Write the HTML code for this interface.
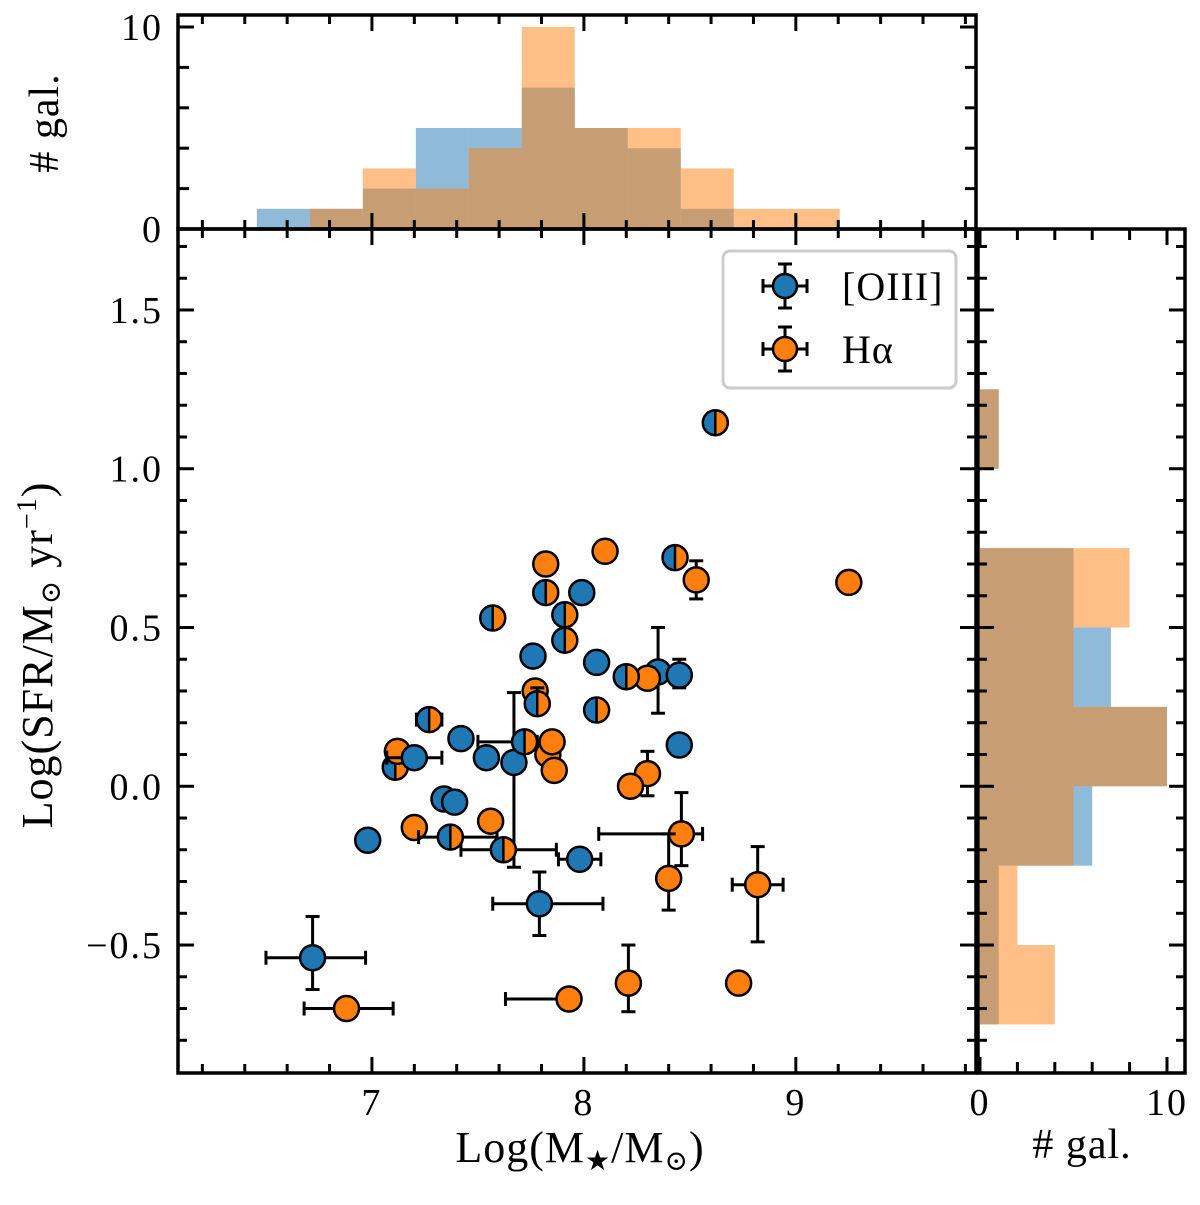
<!DOCTYPE html>
<html><head><meta charset="utf-8"><style>
html,body{margin:0;padding:0;background:#fff;}
svg{display:block;font-family:"Liberation Serif","DejaVu Serif",serif;}
</style></head><body>
<svg id="fig" width="1200" height="1205" viewBox="0 0 1200 1205" xmlns="http://www.w3.org/2000/svg">
</svg>
<script>
// ---- data ----
const histEdgesX = [6.457,6.707,6.957,7.207,7.457,7.707,7.957,8.207,8.457,8.707,8.957,9.207];
const histMassOIII = [1,1,2,5,5,7,5,4,1,0,0];
const histMassHa   = [0,1,3,2,4,10,5,5,3,1,1];
const histEdgesY = [-0.75,-0.5,-0.25,0.0,0.25,0.5,0.75,1.0,1.25];
const histSfrOIII = [1,1,6,10,7,5,0,1];
const histSfrHa   = [4,2,5,10,5,8,0,1];
// points: b=[OIII], o=Halpha, h=both
const ptType = ['h','o','o','h','o','b','h','o','h','h','h','b','b','b','o','b','h','o','h','h','h','h','o','b','b','h','b','b','o','o','o','b','b','o','o','b','o','h','h','b','o','o','o','b','b','o','o','o','o','o','b'];
const ptX    = [8.62,9.25,8.10,8.43,8.53,7.99,7.82,7.82,7.57,7.91,7.91,7.76,8.06,8.35,8.30,8.45,8.20,7.77,7.78,8.06,7.27,7.11,7.12,7.20,7.67,7.72,7.42,7.54,7.83,7.86,7.85,7.34,7.39,8.30,8.22,6.98,7.20,7.37,7.62,7.98,7.56,8.46,8.40,8.45,7.79,8.82,6.88,7.93,8.21,8.73,6.72];
const ptY    = [1.145,0.642,0.74,0.72,0.65,0.61,0.61,0.70,0.53,0.54,0.46,0.41,0.39,0.36,0.34,0.35,0.345,0.30,0.26,0.24,0.21,0.06,0.11,0.09,0.075,0.14,0.15,0.09,0.10,0.05,0.14,-0.04,-0.05,0.04,0.00,-0.17,-0.13,-0.16,-0.20,-0.23,-0.11,-0.15,-0.29,0.13,-0.37,-0.31,-0.70,-0.67,-0.62,-0.62,-0.54];
const ptXerrL= [0.02,0,0,0.03,0.02,0,0,0,0,0,0,0,0,0,0,0.05,0,0,0.03,0.02,0.06,0,0,0.13,0,0.22,0,0,0,0,0,0,0,0,0,0,0,0.15,0.20,0.10,0,0.39,0,0,0.22,0.12,0.20,0.30,0,0,0.22];
const ptXerrR= [0.02,0,0,0.03,0.02,0,0,0,0,0,0,0,0,0,0,0.05,0,0,0.03,0.02,0.06,0,0,0.13,0,0.06,0,0,0,0,0,0,0,0,0,0,0,0.22,0.25,0.10,0,0.10,0,0,0.30,0.12,0.22,0.05,0,0,0.25];
const ptYerrL= [0,0,0,0,0.06,0,0,0,0,0,0,0,0,0.13,0,0.04,0,0,0,0,0,0,0,0,0.33,0,0,0,0,0,0,0,0,0.07,0,0,0,0,0,0,0,0.10,0.10,0,0.10,0.18,0,0.02,0.09,0,0.10];
const ptYerrR= [0,0,0,0,0.06,0,0,0,0,0,0,0,0,0.14,0,0.05,0,0,0.05,0,0,0,0,0,0.22,0,0,0,0,0,0,0,0,0.07,0,0,0,0,0,0,0,0.13,0.14,0,0.10,0.12,0,0.02,0.12,0,0.13];
const xTicks = [7,8,9];
const yTicks = [-0.5,0.0,0.5,1.0,1.5];
const yTickLabels = ['\u22120.5','0.0','0.5','1.0','1.5'];

// ---- layout ----
const M = {l:178,r:976,t:229,b:1073};
const TH = {t:15,b:229};
const RH = {l:978,r:1185};
const X0=6.085,X1=9.85,Y0=-0.903,Y1=1.755;
const sx = v => M.l + (v-X0)/(X1-X0)*(M.r-M.l);
const sy = v => M.b - (v-Y0)/(Y1-Y0)*(M.b-M.t);
const thy = c => 229 - c*(229-27)/10;
const rhx = c => 980 + c*(1167-980)/10;
const BLUE='#1f77b4', ORANGE='#ff7f0e';
const svg=document.getElementById('fig');
const NS='http://www.w3.org/2000/svg';
function mk(tag,attrs,parent){const e=document.createElementNS(NS,tag);for(const k in attrs)e.setAttribute(k,attrs[k]);(parent||svg).appendChild(e);return e;}

// ---- top histogram ----
const gTop=mk('g',{});


[[histMassOIII,BLUE,'top-bar-oiii'],[histMassHa,ORANGE,'top-bar-ha']].forEach(([arr,col,nm])=>{
  arr.forEach((c,i)=>{ if(!c) return;
    const r=mk('rect',{x:sx(histEdgesX[i]),y:thy(c),width:sx(histEdgesX[i+1])-sx(histEdgesX[i]),height:thy(0)-thy(c),fill:col,'fill-opacity':0.5},gTop);
    
    
  });
});
// ---- right histogram ----
const gR=mk('g',{});


[[histSfrOIII,BLUE,'right-bar-oiii'],[histSfrHa,ORANGE,'right-bar-ha']].forEach(([arr,col,nm])=>{
  arr.forEach((c,i)=>{ if(!c) return;
    const r=mk('rect',{x:rhx(0),y:sy(histEdgesY[i+1]),width:rhx(c)-rhx(0),height:sy(histEdgesY[i])-sy(histEdgesY[i+1]),fill:col,'fill-opacity':0.5},gR);
    
    
  });
});

// ---- scatter ----
const gS=mk('g',{});


const R=12.5;
ptX.forEach((xv,i)=>{
  const cx=sx(xv), cy=sy(ptY[i]);
  const g=mk('g',{},gS);
  
  
  const st={stroke:'#000','stroke-width':3};
  if(ptXerrL[i]||ptXerrR[i]){
    const a=sx(xv-ptXerrL[i]), b=sx(xv+ptXerrR[i]);
    mk('line',Object.assign({x1:a,x2:b,y1:cy,y2:cy},st),g);
    mk('line',Object.assign({x1:a,x2:a,y1:cy-7,y2:cy+7},st),g);
    mk('line',Object.assign({x1:b,x2:b,y1:cy-7,y2:cy+7},st),g);
  }
  if(ptYerrL[i]||ptYerrR[i]){
    const a=sy(ptY[i]-ptYerrL[i]), b=sy(ptY[i]+ptYerrR[i]);
    mk('line',Object.assign({x1:cx,x2:cx,y1:a,y2:b},st),g);
    mk('line',Object.assign({x1:cx-7,x2:cx+7,y1:a,y2:a},st),g);
    mk('line',Object.assign({x1:cx-7,x2:cx+7,y1:b,y2:b},st),g);
  }
  const t=ptType[i];
  if(t==='h'){
    mk('path',{d:`M${cx},${cy-R} A${R},${R} 0 0 0 ${cx},${cy+R} Z`,fill:BLUE},g);
    mk('path',{d:`M${cx},${cy-R} A${R},${R} 0 0 1 ${cx},${cy+R} Z`,fill:ORANGE},g);
    mk('line',{x1:cx,x2:cx,y1:cy-R,y2:cy+R,stroke:'#000','stroke-width':2.5},g);
    mk('circle',{cx,cy,r:R,fill:'none',stroke:'#000','stroke-width':2.5},g);
  } else {
    mk('circle',{cx,cy,r:R,fill:t==='b'?BLUE:ORANGE,stroke:'#000','stroke-width':2.5},g);
  }
});

// ---- axes frames & ticks ----
function frame(x1,y1,x2,y2,name){const r=mk('rect',{x:x1,y:y1,width:x2-x1,height:y2-y1,fill:'none',stroke:'#000','stroke-width':3.5});}
frame(M.l,M.t,M.r,M.b,'main-axes-frame');
frame(M.l,TH.t,M.r,TH.b,'top-hist-frame');
frame(RH.l,M.t,RH.r,M.b,'right-hist-frame');
function tk(x1,y1,x2,y2){mk('line',{x1,y1,x2,y2,stroke:'#000','stroke-width':3});}
for(let k=31;k<=98;k++){const v=k/10; const x=sx(v); if(x<M.l+1||x>M.r-1) continue;
  if(k%2!==0) continue;
  const major=(k%10===0); const L=major?16:9;
  tk(x,M.b,x,M.b-L); tk(x,M.t,x,M.t+L); tk(x,TH.b,x,TH.b-L); tk(x,TH.t,x,TH.t+L);
}
for(let k=-9;k<=17;k++){const v=k/10;const y=sy(v); if(y>M.b-1||y<M.t+1) continue;
  const major=(k%5===0); const L=major?16:9;
  tk(M.l,y,M.l+L,y); tk(M.r,y,M.r-L,y); tk(RH.l,y,RH.l+L,y); tk(RH.r,y,RH.r-L,y);
}
for(let c=0;c<=10;c+=2){const y=thy(c); const L=(c===0||c===10)?16:11; tk(M.l,y,M.l+L,y); tk(M.r,y,M.r-L,y);}
for(let c=0;c<=10;c+=2){const x=rhx(c); const L=(c===0||c===10)?16:11; tk(x,M.b,x,M.b-L); tk(x,M.t,x,M.t+L);}

// ---- labels ----
function txt(x,y,s,opt,name){const e=mk('text',Object.assign({x,y,'font-size':38,'letter-spacing':2,fill:'#000'},opt||{}));e.textContent=s;return e;}
xTicks.forEach(v=>txt(sx(v),1115,String(v),{'text-anchor':'middle'},'x-tick-label'));
yTicks.forEach((v,i)=>txt(163,sy(v)+13,yTickLabels[i],{'text-anchor':'end'},'y-tick-label'));
txt(163,thy(10)+13,'10',{'text-anchor':'end'},'top-hist-tick-label');
txt(163,thy(0)+13,'0',{'text-anchor':'end'},'top-hist-tick-label');
txt(rhx(0),1115,'0',{'text-anchor':'middle'},'right-hist-tick-label');
txt(rhx(10),1115,'10',{'text-anchor':'middle'},'right-hist-tick-label');

const xt=txt(580,1162,'Log(M',{'text-anchor':'middle','font-size':44,'letter-spacing':1},'x-axis-title');
let s1=mk('tspan',{dy:8,'font-size':28},xt); s1.textContent='\u2605';
let s2=mk('tspan',{dy:-8},xt); s2.textContent='/M';
let s3=mk('tspan',{dy:8,'font-size':28},xt); s3.textContent='\u2299';
let s4=mk('tspan',{dy:-8},xt); s4.textContent=')';

txt(1082,1158,'# gal.',{'text-anchor':'middle','font-size':42,'letter-spacing':1},'right-hist-x-title');
txt(0,0,'# gal.',{'text-anchor':'middle','font-size':42,'letter-spacing':1,transform:'translate(58,123) rotate(-90)'},'top-hist-y-title');
const yl=txt(0,0,'Log(SFR/M',{'text-anchor':'middle','font-size':44,'letter-spacing':1,transform:'translate(52,655) rotate(-90)'},'y-axis-title');
let y1=mk('tspan',{dy:8,'font-size':28},yl); y1.textContent='\u2299';
let y2=mk('tspan',{dy:-8},yl); y2.textContent=' yr';
let y3=mk('tspan',{dy:-16,'font-size':28},yl); y3.textContent='\u22121';
let y4=mk('tspan',{dy:16},yl); y4.textContent=')';

// ---- legend ----
const lg=mk('g',{});


mk('rect',{x:723,y:251,width:233,height:137,rx:7,fill:'#fff',stroke:'#ccc','stroke-width':3},lg);
[[286,BLUE,'[OIII]','legend-entry-oiii'],[349,ORANGE,'H\u03B1','legend-entry-ha']].forEach(([y,col,s,nm])=>{
  const g=mk('g',{},lg);
  
  
  const st={stroke:'#000','stroke-width':3};
  mk('line',Object.assign({x1:763,x2:807,y1:y,y2:y},st),g);
  mk('line',Object.assign({x1:763,x2:763,y1:y-7,y2:y+7},st),g);
  mk('line',Object.assign({x1:807,x2:807,y1:y-7,y2:y+7},st),g);
  mk('line',Object.assign({x1:785,x2:785,y1:y-22,y2:y+22},st),g);
  mk('line',Object.assign({x1:778,x2:792,y1:y-22,y2:y-22},st),g);
  mk('line',Object.assign({x1:778,x2:792,y1:y+22,y2:y+22},st),g);
  mk('circle',{cx:785,cy:y,r:12,fill:col,stroke:'#000','stroke-width':2.5},g);
  const t=mk('text',{x:842,y:y+14,'font-size':40,'letter-spacing':1},g); t.textContent=s;
});
</script>
</body></html>
